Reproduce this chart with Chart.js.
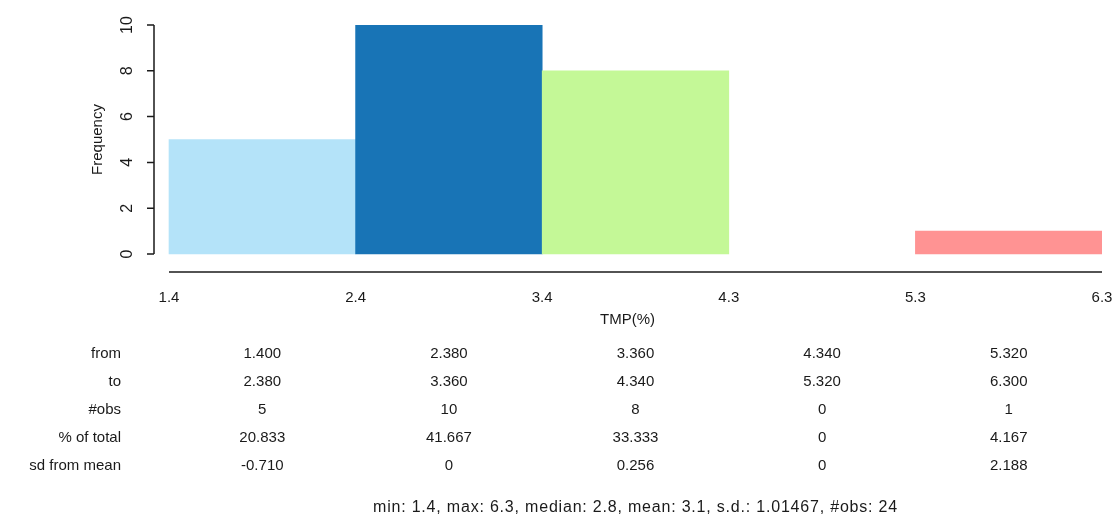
<!DOCTYPE html>
<html>
<head>
<meta charset="utf-8">
<script src="https://cdn.jsdelivr.net/npm/chart.js@4"></script>
<style>
  html, body { margin: 0; padding: 0; background: #fff; overflow: hidden; }
  #wrap { width: 1117px; height: 518px; position: relative; }
</style>
</head>
<body>
<div id="wrap"><canvas id="hist"></canvas></div>
<script>
// histogram data
const binEdges = [1.4, 2.38, 3.36, 4.34, 5.32, 6.3];
const counts = [5, 10, 8, 0, 1];
const pctTotal = ["20.833", "41.667", "33.333", "0", "4.167"];
const sdFromMean = ["-0.710", "0", "0.256", "0", "2.188"];
const yTicks = [0, 2, 4, 6, 8, 10];
const barColors = ["#b4e3f9", "#1874b6", "#c4f897", "#33a02c", "#ff9393"];
const xTitle = "TMP(%)";
const yTitle = "Frequency";
const summary = "min: 1.4, max: 6.3, median: 2.8, mean: 3.1, s.d.: 1.01467, #obs: 24";

const FONT = "'Liberation Sans', Arial, sans-serif";
const INK = "#1a1a1a";

const centers = counts.map((c, i) => (binEdges[i] + binEdges[i + 1]) / 2);

// R-style axes + stats table underneath
const rDecor = {
  id: "rDecor",
  afterDraw(chart) {
    const ctx = chart.ctx;
    const x = chart.scales.x;
    const y = chart.scales.y;
    const axX = chart.chartArea.left + 1;
    ctx.save();
    ctx.strokeStyle = INK;
    ctx.lineWidth = 1.5;
    ctx.fillStyle = INK;

    // y axis
    ctx.beginPath();
    ctx.moveTo(axX, y.getPixelForValue(0));
    ctx.lineTo(axX, y.getPixelForValue(10));
    yTicks.forEach(v => {
      const py = y.getPixelForValue(v);
      ctx.moveTo(axX, py);
      ctx.lineTo(axX - 7, py);
    });
    ctx.stroke();

    ctx.font = "16px " + FONT;
    ctx.textAlign = "center";
    ctx.textBaseline = "middle";
    yTicks.forEach(v => {
      const py = y.getPixelForValue(v);
      ctx.save();
      ctx.translate(axX - 26, py);
      ctx.rotate(-Math.PI / 2);
      ctx.fillText(String(v), 0, 0);
      ctx.restore();
    });
    ctx.font = "15px " + FONT;
    ctx.save();
    ctx.translate(axX - 56, (y.getPixelForValue(0) + y.getPixelForValue(10)) / 2);
    ctx.rotate(-Math.PI / 2);
    ctx.fillText(yTitle, 0, 0);
    ctx.restore();

    // x axis line
    const baseY = chart.chartArea.bottom;
    ctx.beginPath();
    ctx.moveTo(x.getPixelForValue(binEdges[0]), baseY);
    ctx.lineTo(x.getPixelForValue(binEdges[binEdges.length - 1]), baseY);
    ctx.stroke();

    // table
    const rows = [
      ["from", binEdges.slice(0, -1).map(v => v.toFixed(3))],
      ["to", binEdges.slice(1).map(v => v.toFixed(3))],
      ["#obs", counts.map(String)],
      ["% of total", pctTotal],
      ["sd from mean", sdFromMean]
    ];
    ctx.font = "15px " + FONT;
    rows.forEach((row, r) => {
      const py = 354 + r * 28;
      ctx.textAlign = "right";
      ctx.fillText(row[0], 121, py);
      ctx.textAlign = "center";
      row[1].forEach((txt, i) => ctx.fillText(txt, x.getPixelForValue(centers[i]), py));
    });

    ctx.font = "16px " + FONT;
    ctx.letterSpacing = "0.8px";
    ctx.fillText(summary, x.getPixelForValue((binEdges[0] + binEdges[5]) / 2), 508);
    ctx.restore();
    ctx.letterSpacing = "0px";
  }
};

new Chart(document.getElementById("hist"), {
  type: "bar",
  data: {
    datasets: [{
      data: centers.map((c, i) => ({ x: c, y: counts[i] || null })),
      backgroundColor: barColors,
      borderWidth: 0,
      barPercentage: 1,
      categoryPercentage: 1
    }]
  },
  options: {
    responsive: true,
    maintainAspectRatio: false,
    animation: false,
    layout: { padding: { top: 25, right: 15, left: 0, bottom: 189 } },
    plugins: { legend: { display: false }, tooltip: { enabled: false } },
    scales: {
      x: {
        type: "linear",
        offset: false,
        min: 1.316,
        max: 6.3,
        grid: { display: false, drawTicks: false },
        border: { display: false },
        afterBuildTicks: s => { s.ticks = binEdges.map(v => ({ value: v })); },
        afterFit: s => {
          s.height = 57;
          s.paddingLeft = 0;
          s.paddingRight = 0;
        },
        ticks: {
          autoSkip: false,
          maxRotation: 0,
          padding: 17,
          color: INK,
          font: { family: FONT, size: 15 },
          callback: v => Number(v).toFixed(1)
        },
        title: {
          display: true,
          text: xTitle,
          color: INK,
          font: { family: FONT, size: 15 },
          padding: 0
        }
      },
      y: {
        min: -0.786,
        max: 10,
        grid: { display: false },
        border: { display: false },
        afterBuildTicks: s => { s.ticks = yTicks.map(v => ({ value: v })); },
        afterFit: s => { s.width = 153; },
        ticks: { display: false }
      }
    }
  },
  plugins: [rDecor]
});
</script>
</body>
</html>
